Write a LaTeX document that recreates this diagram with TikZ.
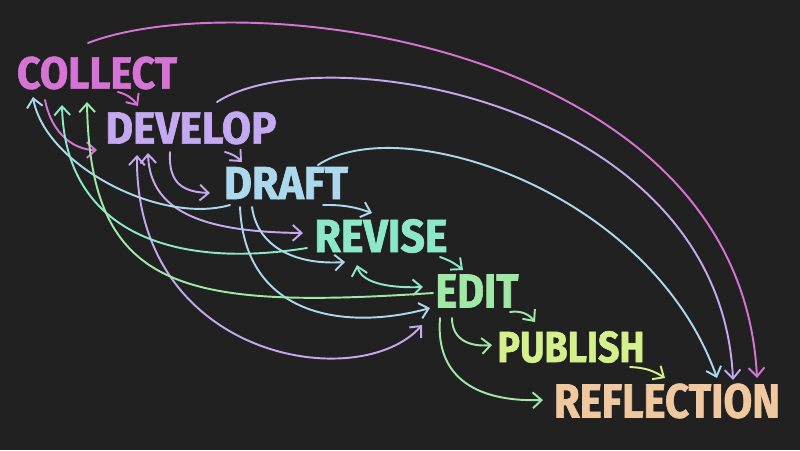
\documentclass[tikz,border=0pt]{standalone}
\usepackage{fontspec}
\setmainfont{Fira Sans}[BoldFeatures={FakeBold=1.5}]
\usepackage{tikz}
\usetikzlibrary{arrows.meta}
\definecolor{board}{RGB}{34,33,33}
\definecolor{cpink}{RGB}{214,116,214}
\definecolor{clav}{RGB}{196,168,240}
\definecolor{cblue}{RGB}{172,216,238}
\definecolor{cmint}{RGB}{140,232,200}
\definecolor{cgreen}{RGB}{160,232,165}
\definecolor{cyell}{RGB}{212,240,140}
\definecolor{cpeach}{RGB}{240,200,160}
\tikzset{word/.style={inner sep=0pt,font=\bfseries},
chalk/.style={line width=1.1pt,line cap=round}}

\begin{document}
\begin{tikzpicture}[x=0.02cm,y=-0.02cm,>={Straight Barb[length=5pt,width=9pt]}]
\fill[board](0,0)rectangle(800,450);
\useasboundingbox(0,0)rectangle(800,450);
\node[word,text=cpink](collect)at(97,73){\resizebox{3.2cm}{0.64cm}{COLLECT}};
\node[word,text=clav](develop)at(191,128){\resizebox{3.42cm}{0.64cm}{DEVELOP}};
\node[word,text=cblue](draft)at(286,183){\resizebox{2.48cm}{0.64cm}{DRAFT}};
\node[word,text=cmint](revise)at(381,236){\resizebox{2.66cm}{0.66cm}{REVISE}};
\node[word,text=cgreen](edit)at(477,291){\resizebox{1.66cm}{0.66cm}{EDIT}};
\node[word,text=cyell](publish)at(571,347){\resizebox{2.94cm}{0.62cm}{PUBLISH}};
\node[word,text=cpeach](reflection)at(667,401){\resizebox{4.52cm}{0.68cm}{REFLECTION}};
\draw[chalk,cpink,->]([shift={(21,19)}]collect.center)to[bend left=20]([shift={(-53,-22)}]develop.center);
\draw[chalk,cpink,->]([shift={(-9,-30)}]collect.center)..controls +(152,-59) and +(-17,-338)..([shift={(90,-23)}]reflection.center);
\draw[chalk,cpink,->]([shift={(-52,27)}]collect.center)..controls +(7,35) and +(-22,0)..([shift={(-94,22)}]develop.center);
\draw[chalk,clav,->]([shift={(34,24)}]develop.center)to[bend left=15]([shift={(-44,-21)}]draft.center);
\draw[chalk,clav,->]([shift={(26,-26)}]develop.center)..controls +(103,-67) and +(-13,-280)..([shift={(66,-21)}]reflection.center);
\draw[chalk,clav,->]([shift={(-21,24)}]develop.center)..controls +(-2,33) and +(-25,-1)..([shift={(-76,10)}]draft.center);
\draw[chalk,clav,<->]([shift={(-43,25)}]develop.center)..controls +(2,62) and +(-93,-1)..([shift={(-78,-3)}]revise.center);
\draw[chalk,clav,<->]([shift={(-54,27)}]develop.center)..controls +(-2,205) and +(-62,70)..([shift={(-55,34)}]edit.center);
\draw[chalk,cblue,->]([shift={(37,22)}]draft.center)to[bend left=10]([shift={(-9,-23)}]revise.center);
\draw[chalk,cblue,->]([shift={(32,-18)}]draft.center)..controls +(82,-55) and +(-67,-188)..([shift={(50,-23)}]reflection.center);
\draw[chalk,cblue,->]([shift={(-56,22)}]draft.center)..controls +(-70,20) and +(12,68)..([shift={(-64,24)}]collect.center);
\draw[chalk,cblue,->]([shift={(-46,24)}]draft.center)..controls +(5,113) and +(-80,22)..([shift={(-47,17)}]edit.center);
\draw[chalk,cblue,->]([shift={(-34,24)}]draft.center)..controls +(6,43) and +(-45,3)..([shift={(-36,26)}]revise.center);
\draw[chalk,cmint,->]([shift={(59,21)}]revise.center)to[bend left=10]([shift={(-14,-21)}]edit.center);
\draw[chalk,cmint,<->]([shift={(-24,29)}]revise.center)..controls +(5,20) and +(-28,1)..([shift={(-54,-4)}]edit.center);
\draw[chalk,cmint,->]([shift={(-74,12)}]revise.center)..controls +(-137,22) and +(3,125)..([shift={(-35,32)}]collect.center);
\draw[chalk,cgreen,->]([shift={(-44,2)}]edit.center)..controls +(-253,17) and +(3,188)..([shift={(-10,29)}]collect.center);
\draw[chalk,cgreen,->]([shift={(33,21)}]edit.center)to[bend left=30]([shift={(-36,-25)}]publish.center);
\draw[chalk,cgreen,->]([shift={(-25,27)}]edit.center)..controls +(0,22) and +(-22,2)..([shift={(-79,-2)}]publish.center);
\draw[chalk,cgreen,->]([shift={(-37,27)}]edit.center)..controls +(-5,62) and +(-63,2)..([shift={(-124,-1)}]reflection.center);
\draw[chalk,cyell,->]([shift={(59,20)}]publish.center)to[bend left=15]([shift={(-2,-23)}]reflection.center);
\end{tikzpicture}
\end{document}
